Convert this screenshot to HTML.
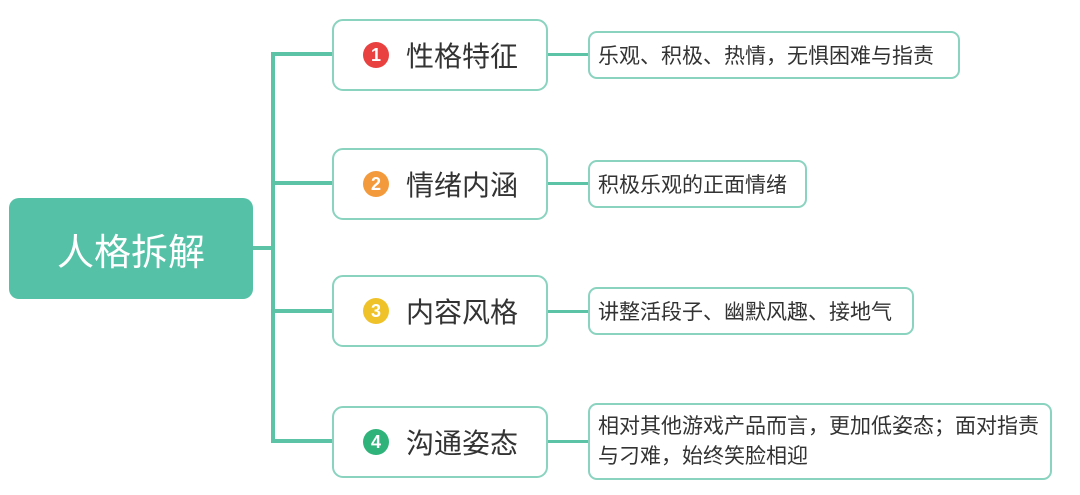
<!DOCTYPE html>
<html><head><meta charset="utf-8"><style>
body{margin:0;width:1080px;height:495px;background:#fff;position:relative;overflow:hidden;font-family:"Liberation Sans","Noto Sans CJK SC",sans-serif;}
.a{position:absolute;}
.ln{position:absolute;background:#5cc3a7;}
.root{left:9px;top:198px;width:244px;height:101px;background:#55c1a6;border-radius:10px;color:#fff;font-size:37px;display:flex;align-items:center;justify-content:center;}
.br{left:332px;width:212px;height:68px;border:2px solid #8ad3bf;border-radius:11px;background:#fff;font-size:28px;color:#333;}
.br span.t{position:absolute;left:72px;top:50%;transform:translateY(-50%);white-space:nowrap;}
.c{position:absolute;left:29px;top:50%;width:26px;height:26px;margin-top:-13px;border-radius:50%;color:#fff;font-size:18px;font-weight:bold;text-align:center;line-height:26px;}
.d{left:588px;border:2px solid #8ad3bf;border-radius:9px;background:#fff;font-size:21px;color:#333;padding:0 8px;box-sizing:border-box;display:flex;align-items:center;white-space:nowrap;}
</style></head><body>
<div class="ln" style="left:253px;top:246px;width:22px;height:4px"></div>
<div class="ln" style="left:271px;top:52px;width:4px;height:391px"></div>
<div class="ln" style="left:271px;top:52px;width:62px;height:4px"></div>
<div class="ln" style="left:271px;top:181px;width:62px;height:4px"></div>
<div class="ln" style="left:271px;top:309px;width:62px;height:4px"></div>
<div class="ln" style="left:271px;top:439px;width:62px;height:4px"></div>
<div class="ln" style="left:547px;top:53px;width:42px;height:3px"></div>
<div class="ln" style="left:547px;top:182px;width:42px;height:3px"></div>
<div class="ln" style="left:547px;top:310px;width:42px;height:3px"></div>
<div class="ln" style="left:547px;top:440px;width:42px;height:3px"></div>
<div class="a root">人格拆解</div>
<div class="a br" style="top:19px"><div class="c" style="background:#e94040">1</div><span class="t">性格特征</span></div>
<div class="a br" style="top:148px"><div class="c" style="background:#f39a3c">2</div><span class="t">情绪内涵</span></div>
<div class="a br" style="top:275px"><div class="c" style="background:#efc22a">3</div><span class="t">内容风格</span></div>
<div class="a br" style="top:406px"><div class="c" style="background:#2fb37a">4</div><span class="t">沟通姿态</span></div>
<div class="a d" style="top:31px;width:372px;height:48px">乐观、积极、热情，无惧困难与指责</div>
<div class="a d" style="top:160px;width:219px;height:48px">积极乐观的正面情绪</div>
<div class="a d" style="top:287px;width:326px;height:48px">讲整活段子、幽默风趣、接地气</div>
<div class="a d" style="top:403px;width:464px;height:77px;white-space:normal;line-height:30px">相对其他游戏产品而言，更加低姿态；面对指责<br>与刁难，始终笑脸相迎</div>
</body></html>
